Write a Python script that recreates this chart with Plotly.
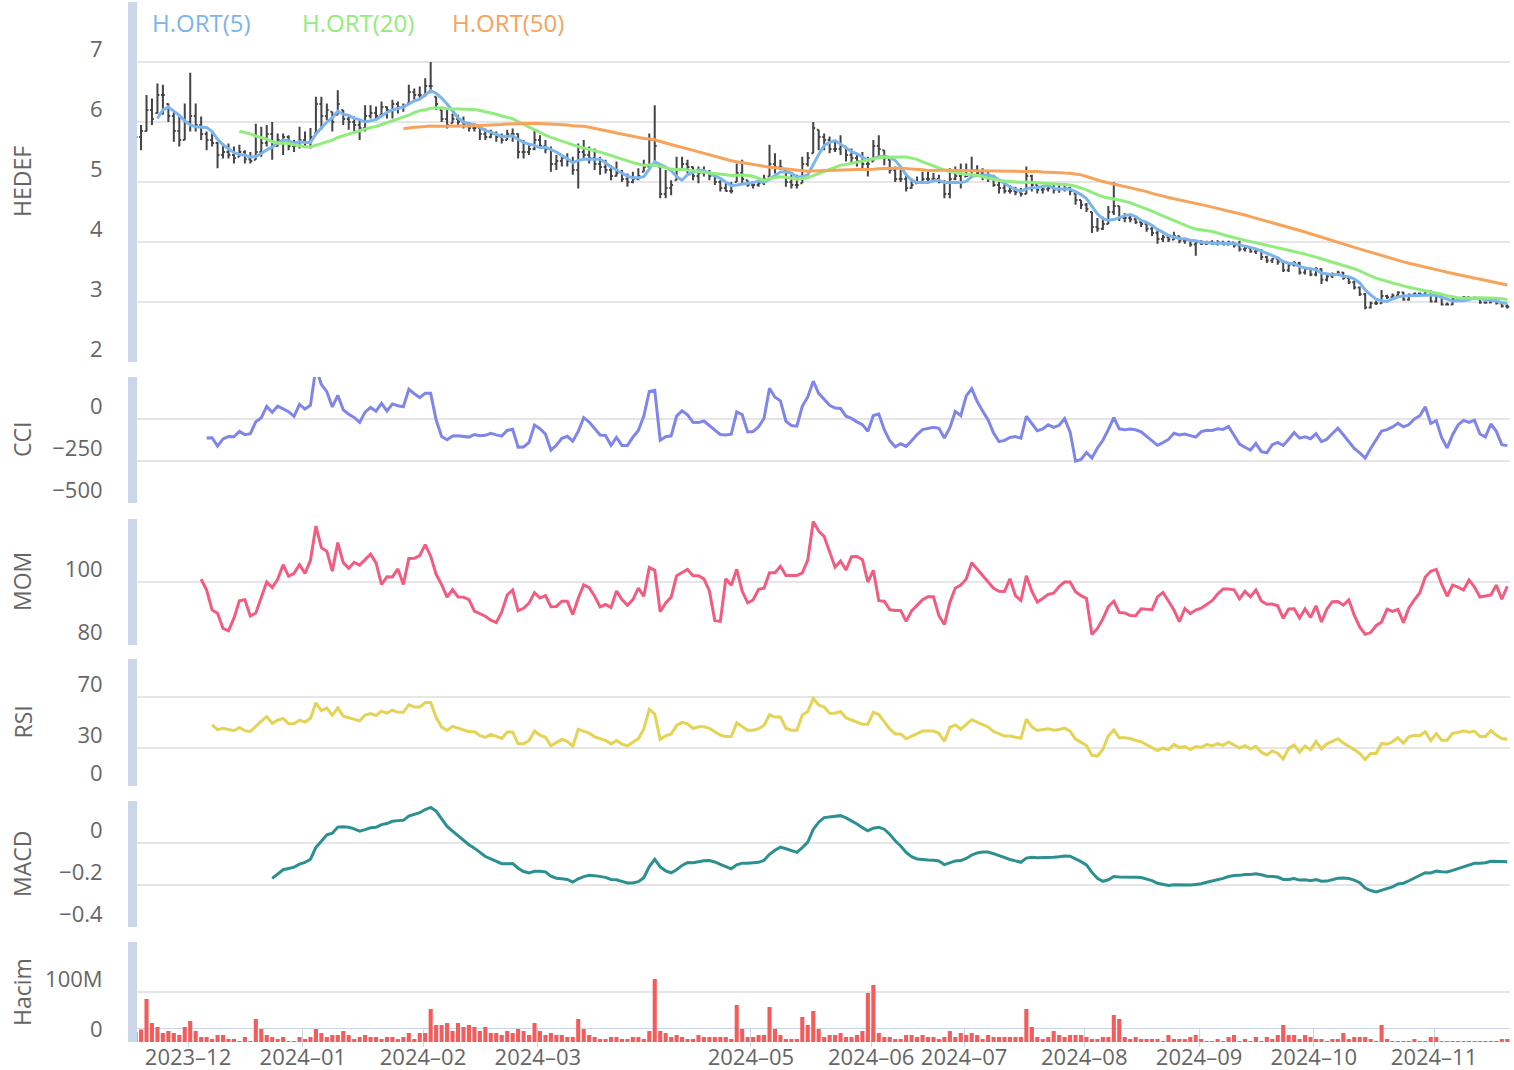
import numpy as np
import pandas as pd
import plotly.graph_objects as go

# ---------------- data ----------------
OPEN = [5.7, 5.75, 5.85, 6.2, 6.15, 6.45, 6.3, 6.1, 5.85, 5.7,
        6.0, 6.1, 5.95, 5.8, 5.7, 5.65, 5.45, 5.5, 5.45, 5.42,
        5.5, 5.38, 5.37, 5.5, 5.65, 5.8, 5.6, 5.7, 5.75, 5.6,
        5.6, 5.7, 5.65, 5.81, 6.3, 6.1, 6.17, 6.12, 6.2, 6.05,
        6.0, 5.95, 5.9, 6.1, 6.15, 6.12, 6.25, 6.2, 6.3, 6.25,
        6.31, 6.5, 6.45, 6.45, 6.6, 6.42, 6.2, 6.05, 5.98, 6.05,
        6.0, 5.95, 5.9, 5.9, 5.8, 5.75, 5.8, 5.75, 5.7, 5.8,
        5.8, 5.5, 5.5, 5.55, 5.7, 5.6, 5.55, 5.3, 5.35, 5.4,
        5.35, 5.2, 5.5, 5.45, 5.4, 5.3, 5.25, 5.2, 5.1, 5.15,
        5.05, 5.0, 5.05, 5.17, 5.26, 5.7, 5.25, 4.8, 4.9, 5.03,
        5.2, 5.3, 5.25, 5.1, 5.15, 5.15, 5.1, 5.0, 4.9, 4.85,
        5.0, 5.15, 5.03, 4.95, 4.95, 4.98, 5.09, 5.3, 5.25, 5.2,
        5.0, 4.95, 4.98, 5.3, 5.48, 5.87, 5.75, 5.7, 5.55, 5.55,
        5.59, 5.45, 5.4, 5.35, 5.3, 5.34, 5.6, 5.53, 5.37, 5.2,
        5.05, 5.05, 4.9, 4.98, 5.0, 5.05, 5.05, 5.05, 5.0, 4.8,
        5.05, 5.1, 5.09, 5.1, 5.2, 5.15, 5.1, 5.05, 4.95, 4.9,
        4.85, 4.85, 4.83, 4.8, 5.1, 4.95, 4.87, 4.88, 4.9, 4.87,
        4.88, 4.9, 4.81, 4.7, 4.62, 4.5, 4.25, 4.22, 4.3, 4.5,
        4.6, 4.4, 4.4, 4.38, 4.33, 4.3, 4.22, 4.15, 4.05, 4.08,
        4.04, 4.1, 4.02, 4.03, 3.96, 3.99, 3.97, 4.0, 3.97, 3.99,
        3.96, 3.99, 3.94, 3.88, 3.9, 3.84, 3.86, 3.75, 3.69, 3.72,
        3.67, 3.53, 3.62, 3.65, 3.49, 3.55, 3.46, 3.55, 3.37, 3.43,
        3.46, 3.49, 3.40, 3.33, 3.24, 3.13, 2.91, 2.98, 2.98, 3.10,
        3.08, 3.11, 3.16, 3.04, 3.12, 3.14, 3.13, 3.18, 3.01, 3.10,
        2.96, 2.96, 3.05, 3.06, 3.08, 3.06, 3.07, 2.99, 2.99, 3.05,
        2.98, 2.93]

HIGH = [5.9, 5.95, 6.45, 6.39, 6.64, 6.62, 6.31, 6.2, 6.12, 6.31,
        6.82, 6.31, 6.09, 5.84, 5.81, 5.67, 5.64, 5.64, 5.59, 5.62,
        5.53, 5.5, 5.97, 5.92, 5.95, 6.0, 5.81, 5.81, 5.78, 5.7,
        5.92, 5.84, 5.9, 6.42, 6.42, 6.31, 6.17, 6.53, 6.2, 6.12,
        6.09, 6.03, 6.28, 6.28, 6.26, 6.34, 6.26, 6.37, 6.34, 6.31,
        6.62, 6.56, 6.59, 6.73, 7.0, 6.42, 6.2, 6.2, 6.14, 6.12,
        6.09, 6.0, 5.98, 5.95, 5.89, 5.87, 5.84, 5.81, 5.87, 5.89,
        5.81, 5.7, 5.64, 5.87, 5.78, 5.7, 5.59, 5.45, 5.45, 5.48,
        5.42, 5.64, 5.7, 5.59, 5.56, 5.42, 5.37, 5.28, 5.34, 5.2,
        5.14, 5.17, 5.23, 5.37, 5.81, 6.28, 5.26, 5.2, 5.03, 5.42,
        5.42, 5.37, 5.26, 5.26, 5.26, 5.2, 5.12, 5.03, 5.0, 5.0,
        5.31, 5.37, 5.03, 5.0, 5.03, 5.12, 5.62, 5.48, 5.37, 5.2,
        5.12, 5.12, 5.42, 5.5, 6.0, 5.87, 5.81, 5.76, 5.7, 5.78,
        5.59, 5.56, 5.48, 5.5, 5.42, 5.7, 5.78, 5.53, 5.37, 5.26,
        5.2, 5.14, 5.06, 5.09, 5.17, 5.17, 5.15, 5.12, 5.03, 5.23,
        5.26, 5.31, 5.31, 5.42, 5.28, 5.23, 5.17, 5.12, 5.03, 4.98,
        4.95, 4.92, 4.9, 5.26, 5.12, 4.95, 4.95, 4.98, 4.95, 4.95,
        4.98, 4.92, 4.81, 4.7, 4.65, 4.5, 4.4, 4.42, 4.6, 5.0,
        4.6, 4.48, 4.45, 4.42, 4.36, 4.3, 4.25, 4.2, 4.12, 4.12,
        4.17, 4.1, 4.05, 4.03, 4.03, 4.03, 4.02, 4.03, 4.03, 4.02,
        4.02, 3.99, 4.02, 3.93, 3.9, 3.9, 3.88, 3.77, 3.73, 3.72,
        3.70, 3.65, 3.68, 3.67, 3.58, 3.57, 3.58, 3.56, 3.46, 3.49,
        3.52, 3.50, 3.42, 3.36, 3.26, 3.15, 3.01, 3.02, 3.20, 3.12,
        3.14, 3.18, 3.17, 3.14, 3.16, 3.16, 3.20, 3.19, 3.12, 3.11,
        2.99, 3.07, 3.08, 3.10, 3.09, 3.09, 3.08, 3.01, 3.07, 3.06,
        3.00, 2.96]

LOW = [5.6, 5.53, 5.84, 5.95, 6.14, 6.12, 6.0, 5.67, 5.59, 5.7,
       5.84, 5.84, 5.7, 5.53, 5.59, 5.23, 5.39, 5.39, 5.31, 5.42,
       5.31, 5.31, 5.37, 5.42, 5.59, 5.37, 5.59, 5.45, 5.53, 5.5,
       5.56, 5.59, 5.56, 5.81, 5.87, 6.03, 5.84, 6.12, 5.95, 5.87,
       5.81, 5.7, 5.84, 6.06, 6.03, 6.12, 6.06, 6.06, 6.14, 6.17,
       6.31, 6.37, 6.37, 6.42, 6.48, 6.2, 6.0, 5.89, 5.98, 5.95,
       5.89, 5.84, 5.84, 5.7, 5.7, 5.73, 5.67, 5.64, 5.7, 5.67,
       5.39, 5.39, 5.45, 5.53, 5.56, 5.48, 5.17, 5.2, 5.26, 5.26,
       5.12, 4.89, 5.37, 5.31, 5.2, 5.12, 5.14, 5.03, 5.09, 5.0,
       4.92, 4.98, 5.03, 5.17, 5.26, 5.26, 4.73, 4.73, 4.78, 5.03,
       5.2, 5.14, 5.03, 4.98, 5.09, 5.03, 4.95, 4.84, 4.84, 4.81,
       5.0, 4.98, 4.92, 4.89, 4.92, 4.95, 5.09, 5.14, 5.2, 4.92,
       4.89, 4.89, 4.98, 5.26, 5.48, 5.53, 5.53, 5.48, 5.5, 5.45,
       5.34, 5.31, 5.26, 5.23, 5.09, 5.34, 5.42, 5.28, 5.14, 5.0,
       5.0, 4.84, 4.89, 4.98, 5.0, 5.0, 5.0, 4.98, 4.73, 4.73,
       5.03, 4.89, 5.09, 5.09, 5.09, 5.03, 5.0, 4.92, 4.81, 4.81,
       4.81, 4.78, 4.76, 4.8, 4.84, 4.81, 4.81, 4.84, 4.81, 4.82,
       4.84, 4.78, 4.62, 4.55, 4.5, 4.15, 4.17, 4.2, 4.3, 4.45,
       4.35, 4.33, 4.33, 4.3, 4.25, 4.17, 4.1, 3.97, 4.0, 4.0,
       4.03, 3.98, 3.97, 3.92, 3.77, 3.95, 3.95, 3.95, 3.94, 3.95,
       3.94, 3.91, 3.84, 3.84, 3.82, 3.8, 3.7, 3.65, 3.65, 3.62,
       3.50, 3.50, 3.59, 3.46, 3.46, 3.43, 3.43, 3.30, 3.34, 3.40,
       3.44, 3.37, 3.30, 3.21, 3.10, 2.88, 2.89, 2.95, 2.97, 3.05,
       3.06, 3.09, 3.02, 3.02, 3.10, 3.11, 3.11, 2.99, 2.99, 2.94,
       2.94, 2.95, 3.03, 3.04, 3.04, 3.04, 2.97, 2.97, 2.98, 2.96,
       2.91, 2.89]

CLOSE = [5.75, 5.85, 6.2, 6.05, 6.45, 6.45, 6.1, 5.85, 5.7, 6.0,
         6.1, 5.95, 5.8, 5.7, 5.65, 5.45, 5.5, 5.45, 5.4, 5.5,
         5.38, 5.35, 5.5, 5.65, 5.8, 5.6, 5.7, 5.75, 5.6, 5.6,
         5.7, 5.65, 5.75, 6.3, 6.1, 6.2, 6.0, 6.3, 6.05, 6.0,
         5.95, 5.9, 6.1, 6.15, 6.1, 6.25, 6.2, 6.3, 6.25, 6.25,
         6.5, 6.45, 6.45, 6.6, 6.6, 6.3, 6.05, 5.95, 6.05, 6.0,
         5.95, 5.9, 5.9, 5.8, 5.75, 5.8, 5.75, 5.7, 5.8, 5.8,
         5.5, 5.5, 5.55, 5.7, 5.6, 5.55, 5.3, 5.35, 5.4, 5.35,
         5.2, 5.5, 5.45, 5.4, 5.3, 5.25, 5.2, 5.1, 5.15, 5.05,
         5.0, 5.05, 5.1, 5.25, 5.7, 5.6, 4.8, 4.9, 4.95, 5.2,
         5.3, 5.25, 5.1, 5.15, 5.15, 5.1, 5.0, 4.9, 4.85, 4.85,
         5.15, 5.05, 4.95, 4.95, 4.98, 5.05, 5.3, 5.25, 5.25, 5.0,
         4.95, 4.95, 5.3, 5.4, 5.9, 5.75, 5.7, 5.55, 5.55, 5.6,
         5.45, 5.4, 5.35, 5.3, 5.3, 5.6, 5.55, 5.4, 5.2, 5.05,
         5.05, 4.9, 4.95, 5.0, 5.05, 5.05, 5.05, 5.0, 4.8, 5.05,
         5.1, 5.0, 5.1, 5.2, 5.15, 5.1, 5.05, 4.95, 4.9, 4.85,
         4.85, 4.83, 4.8, 5.1, 4.95, 4.87, 4.88, 4.9, 4.87, 4.88,
         4.9, 4.85, 4.7, 4.62, 4.55, 4.25, 4.22, 4.3, 4.5, 4.6,
         4.4, 4.4, 4.38, 4.33, 4.3, 4.22, 4.15, 4.05, 4.08, 4.04,
         4.1, 4.02, 4.03, 3.96, 3.99, 3.97, 4.0, 3.97, 3.99, 3.96,
         3.99, 3.94, 3.88, 3.9, 3.84, 3.86, 3.75, 3.69, 3.72, 3.67,
         3.53, 3.62, 3.65, 3.49, 3.55, 3.46, 3.55, 3.37, 3.43, 3.46,
         3.49, 3.40, 3.33, 3.24, 3.13, 2.91, 2.98, 2.98, 3.10, 3.08,
         3.11, 3.16, 3.04, 3.12, 3.14, 3.13, 3.18, 3.01, 3.10, 2.96,
         2.96, 3.05, 3.06, 3.08, 3.06, 3.07, 2.99, 2.99, 3.05, 2.98,
         2.93, 2.92]

VOLUME_M = [20, 25, 86, 38, 30, 18, 22, 18, 14, 30,
            42, 22, 10, 10, 6, 14, 14, 6, 6, 2,
            10, 2, 46, 26, 14, 10, 6, 10, 2, 2,
            10, 6, 10, 26, 18, 10, 14, 14, 22, 14,
            6, 10, 14, 10, 10, 6, 10, 10, 6, 10,
            18, 6, 18, 18, 66, 34, 34, 38, 22, 38,
            30, 34, 30, 22, 30, 18, 18, 14, 22, 18,
            26, 22, 14, 38, 22, 14, 18, 14, 14, 10,
            10, 46, 26, 14, 10, 6, 6, 10, 10, 6,
            6, 10, 10, 6, 22, 126, 22, 18, 10, 14,
            10, 6, 6, 14, 10, 10, 10, 10, 10, 6,
            74, 26, 10, 10, 14, 14, 70, 26, 14, 6,
            6, 6, 50, 34, 62, 26, 10, 14, 14, 18,
            10, 10, 14, 22, 98, 114, 18, 10, 10, 6,
            6, 14, 14, 10, 14, 10, 10, 6, 10, 22,
            10, 18, 14, 18, 14, 6, 14, 10, 10, 10,
            10, 10, 10, 66, 30, 10, 6, 10, 22, 14,
            10, 14, 14, 14, 10, 6, 6, 10, 10, 54,
            46, 10, 6, 10, 6, 6, 6, 6, 2, 14,
            6, 6, 6, 10, 14, 6, 2, 2, 6, 2,
            10, 14, 2, 6, 2, 10, 2, 10, 6, 14,
            34, 14, 14, 6, 14, 10, 6, 6, 2, 6,
            6, 18, 6, 10, 10, 10, 6, 2, 34, 6,
            2, 2, 2, 2, 6, 2, 2, 10, 10, 2,
            1, 2, 2, 2, 2, 2, 2, 2, 2, 2,
            6, 6]

HOLIDAYS = ["2024-01-01", "2024-04-10", "2024-04-11", "2024-04-12", "2024-04-23",
            "2024-05-01", "2024-06-17", "2024-06-18", "2024-06-19", "2024-07-15",
            "2024-08-30", "2024-10-29"]
TICK_MONTHS = ["2023-12", "2024-01", "2024-02", "2024-03", "2024-05", "2024-06",
               "2024-07", "2024-08", "2024-09", "2024-10", "2024-11"]
TICK_LABELS = [m.replace("-", "\u2013") for m in TICK_MONTHS]
MA_PERIODS = [5, 20, 50]
MA_NAMES = ["H.ORT(5)", "H.ORT(20)", "H.ORT(50)"]
MA_COLORS = ["#7cb5ec", "#90ed7d", "#f7a35c"]
PANEL_TITLES = ["HEDEF", "CCI", "MOM", "RSI", "MACD", "Hacim"]

# ---------------- trading calendar ----------------
n = len(CLOSE)
days = pd.bdate_range("2023-11-17", "2024-11-20")
days = days[~days.isin(pd.to_datetime(HOLIDAYS))][:n]
months = np.array(days.strftime("%Y-%m"))
idx = np.arange(n)
tickpos = [float(np.argmax(months == m)) - 0.4 for m in TICK_MONTHS]

o = np.array(OPEN, float); h = np.array(HIGH, float)
l = np.array(LOW, float); c = np.array(CLOSE, float)
vol = np.array(VOLUME_M, float) * 1e6

# ---------------- indicators (computed from the OHLC data) ----------------
def sma(a, p):
    out = np.full(len(a), np.nan)
    for i in range(p - 1, len(a)):
        out[i] = a[i - p + 1:i + 1].mean()
    return out

def ema(a, p):
    out = np.full(len(a), np.nan)
    k = 2.0 / (p + 1)
    out[p - 1] = a[:p].mean()
    for i in range(p, len(a)):
        out[i] = a[i] * k + out[i - 1] * (1 - k)
    return out

def cci(hh, ll, cc, p=14):
    tp = (hh + ll + cc) / 3.0
    out = np.full(len(cc), np.nan)
    for i in range(p - 1, len(cc)):
        w = tp[i - p + 1:i + 1]
        m = w.mean()
        md = np.abs(w - m).mean()
        out[i] = (tp[i] - m) / (0.015 * md) if md > 0 else 0.0
    return out

def mom(cc, p=12):
    out = np.full(len(cc), np.nan)
    out[p:] = cc[p:] / cc[:-p] * 100.0
    return out

def rsi(cc, p=14):
    out = np.full(len(cc), np.nan)
    d = np.diff(cc)
    g = np.where(d > 0, d, 0.0); ls = np.where(d < 0, -d, 0.0)
    ag = g[:p].mean(); al = ls[:p].mean()
    out[p] = 100 - 100 / (1 + ag / al) if al > 0 else 100
    for i in range(p + 1, len(cc)):
        ag = (ag * (p - 1) + g[i - 1]) / p
        al = (al * (p - 1) + ls[i - 1]) / p
        out[i] = 100 - 100 / (1 + ag / al) if al > 0 else 100
    return out

ma = [sma(c, p) for p in MA_PERIODS]
cci_v = cci(h, l, c)
mom_v = mom(c)
rsi_v = rsi(c)
macd_v = ema(c, 12) - ema(c, 26)

def nz(a):
    return [None if np.isnan(v) else float(v) for v in a]

# ---------------- figure ----------------
FONT = "Open Sans"
GRID = "#e6e6e6"
AXBAR = "#ccd6eb"
TXT = "#666666"
W, H = 1514, 1070
XD = [137 / W, 1510 / W]
PANELS = [(2, 362), (377, 503), (519, 645), (659, 786), (801, 927), (942, 1042)]
XR = [0.26, 251.5]

def dom(p):
    return [1 - p[1] / H, 1 - p[0] / H]

fig = go.Figure()
fig.add_trace(go.Ohlc(x=idx, open=o, high=h, low=l, close=c,
                      increasing=dict(line=dict(color="#434348", width=2)),
                      decreasing=dict(line=dict(color="#434348", width=2)),
                      tickwidth=0.35, xaxis="x", yaxis="y", name="HEDEF"))
for k in range(3):
    fig.add_trace(go.Scatter(x=idx, y=nz(ma[k]), mode="lines", name=MA_NAMES[k],
                             line=dict(color=MA_COLORS[k], width=3), xaxis="x", yaxis="y"))
fig.add_trace(go.Scatter(x=idx, y=nz(cci_v), mode="lines", name="CCI",
                         line=dict(color="#8085e9", width=3), xaxis="x2", yaxis="y2"))
fig.add_trace(go.Scatter(x=idx, y=nz(mom_v), mode="lines", name="MOM",
                         line=dict(color="#f15c80", width=3), xaxis="x3", yaxis="y3"))
fig.add_trace(go.Scatter(x=idx, y=nz(rsi_v), mode="lines", name="RSI",
                         line=dict(color="#e4d354", width=3), xaxis="x4", yaxis="y4"))
fig.add_trace(go.Scatter(x=idx, y=nz(macd_v), mode="lines", name="MACD",
                         line=dict(color="#2b908f", width=3), xaxis="x5", yaxis="y5"))
fig.add_trace(go.Bar(x=idx, y=vol, name="Hacim", marker=dict(color="#f45b5b", line=dict(width=0)),
                     xaxis="x6", yaxis="y6"))

Y_SPECS = [
    dict(range=[2, 8], tickvals=[2, 3, 4, 5, 6, 7, 8], ticktext=["2", "3", "4", "5", "6", "7", ""]),
    dict(range=[-500, 250], tickvals=[-500, -250, 0, 250], ticktext=["\u2212500", "\u2212250", "0", ""]),
    dict(range=[80, 120], tickvals=[80, 100, 120], ticktext=["80", "100", ""]),
    dict(range=[0, 100], tickvals=[0, 30, 70, 100], ticktext=["0", "30", "70", ""]),
    dict(range=[-0.4, 0.2], tickvals=[-0.4, -0.2, 0, 0.2], ticktext=["\u22120.4", "\u22120.2", "0", ""]),
    dict(range=[0, 200e6], tickvals=[0, 100e6, 200e6], ticktext=["0", "100M", ""]),
]

layout = dict(width=W, height=H, margin=dict(l=0, r=0, t=0, b=0, pad=0), autosize=False,
              paper_bgcolor="white", plot_bgcolor="white", showlegend=False,
              font=dict(family=FONT, color=TXT), bargap=0.25, hovermode="x")
for k in range(6):
    sx = "" if k == 0 else str(k + 1)
    xa = dict(domain=XD, range=XR, anchor="y" + sx, showgrid=False, zeroline=False,
              showticklabels=False, ticks="", fixedrange=True, automargin=False)
    if k > 0:
        xa["matches"] = "x"
    if k == 5:
        xa.update(anchor="free", position=1 - 1028 / H, showline=True, linecolor=AXBAR, linewidth=1,
                  ticks="outside", ticklen=18, tickwidth=1, tickcolor=AXBAR, layer="below traces",
                  showticklabels=True, tickvals=tickpos, ticktext=TICK_LABELS,
                  ticklabelstandoff=-8,
                  tickfont=dict(family=FONT, size=22, color=TXT))
    if k == 0:
        xa["rangeslider"] = dict(visible=False)
    layout["xaxis" + sx] = xa
    ya = dict(domain=dom(PANELS[k]), anchor="x" + sx, showgrid=True, gridcolor=GRID, gridwidth=2,
              zeroline=False, showline=True, linecolor=AXBAR, linewidth=9, ticks="",
              tickfont=dict(family=FONT, size=22, color=TXT), ticklabelshift=-13,
              ticklabelstandoff=21, fixedrange=True, automargin=False, **Y_SPECS[k])
    layout["yaxis" + sx] = ya

ann = []
LEG_X = [150, 300, 450]
for k in range(3):
    ann.append(dict(text=MA_NAMES[k], x=LEG_X[k] / W, y=1 - 22 / H, xref="paper", yref="paper",
                    xanchor="left", yanchor="middle", showarrow=False,
                    font=dict(family=FONT, size=24, color=MA_COLORS[k])))
for k in range(6):
    cy = (PANELS[k][0] + PANELS[k][1]) / 2
    ann.append(dict(text=PANEL_TITLES[k], x=22 / W, y=1 - cy / H, xref="paper", yref="paper",
                    xanchor="center", yanchor="middle", textangle=-90, showarrow=False,
                    font=dict(family=FONT, size=23, color=TXT)))
layout["annotations"] = ann
fig.update_layout(**layout)

fig.write_html("out.html", config={"displayModeBar": False},
               post_script="document.body.style.margin='0';")
